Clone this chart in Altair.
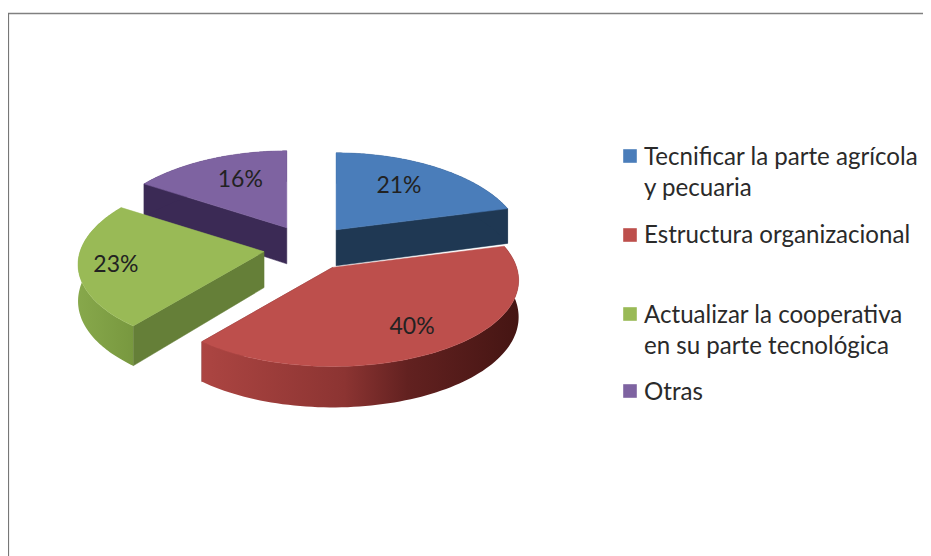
import numpy as np
import altair as alt

# ---- chart values ----
categories = ["Tecnificar la parte agrícola y pecuaria", "Estructura organizacional",
              "Actualizar la cooperativa en su parte tecnológica", "Otras"]
values = [21, 40, 23, 16]
legend_lines = [["Tecnificar la parte agrícola", "y pecuaria"], ["Estructura organizacional"],
                ["Actualizar la cooperativa", "en su parte tecnológica"], ["Otras"]]

# ---- layout and style ----
W, H = 915, 548
FONT = "Lato"
top_colors = ["#4a7dba", "#bd4f4c", "#99ba56", "#7e63a1"]
cut_colors = ["#1f3853", "#7a2f2d", "#657f38", "#3b2a55"]
def grad(*stops):
    return alt.LinearGradient(gradient="linear", x1=0, y1=0, x2=1, y2=0,
                              stops=[alt.GradientStop(offset=o, color=c) for o, c in stops])
rim_fills = [cut_colors[0],
             grad((0, "#ac4542"), (0.45, "#8c3432"), (0.65, "#622120"), (1, "#451513")),
             grad((0, "#87a84b"), (1, "#78983f")),
             cut_colors[3]]
CX, CY, EX, EY = 308.5, 248, 45, 23      # pie centre and explosion
R, S, KX, KY = 184, 88, 0.15, 0.125      # ellipse radii and perspective
label_reach = [0.58, 0.72, 0.80, 0.62]
label_nudge = [(2, -6), (2, 2), (0, 2), (4, -3)]
legend_rows = [[165, 196], [243], [323, 354], [400]]
swatch_rows = [156, 235, 314, 391]
cut_side = [1, 1, 0, 0]                  # which straight edge of each slice faces the viewer

shares = np.array(values) / sum(values) * 2 * np.pi
stops = np.concatenate([[0], np.cumsum(shares)])

def project(theta, mid, reach=1.0):
    u, v = np.sin(theta) * reach, -np.cos(theta) * reach
    px = CX + EX * np.sin(mid) + R * u * (1 + KX * v)
    py = CY - EY * np.cos(mid) + S * (v + KY * v * v)
    return px, py

def depth(theta, reach=1.0):
    return 36 + 5 * (-np.cos(theta) * reach)

def shape(points, **mark):
    ring = [[float(x), float(y)] for x, y in points]
    ring.append(ring[0])
    feat = {"type": "Feature", "properties": {}, "geometry": {"type": "Polygon", "coordinates": [ring]}}
    return (alt.Chart(alt.InlineData(values=[feat])).mark_geoshape(**mark)
            .project(type="identity", scale=1, translate=[-8, -8]))

layers = []
for i in [3, 0, 2, 1]:
    a0, a1 = stops[i], stops[i + 1]
    mid = (a0 + a1) / 2
    th = np.linspace(a0, a1, 90)
    xs, ys = project(th, mid)
    ax, ay = project(mid, mid, 0.0)
    ad = 36
    # straight cut wall (the one facing the viewer)
    cut_theta = a1 if cut_side[i] else a0
    cx_, cy_ = project(cut_theta, mid)
    cd = depth(cut_theta)
    layers.append(shape([(ax, ay), (cx_, cy_), (cx_, cy_ + cd), (ax, ay + ad)],
                        fill=cut_colors[i], stroke=cut_colors[i], strokeWidth=0.5))
    # outer wall
    rim = list(zip(xs, ys)) + list(zip(xs[::-1], (ys + depth(th))[::-1]))
    layers.append(shape(rim, fill=rim_fills[i]))
    # top face
    layers.append(shape([(ax, ay)] + list(zip(xs, ys)), fill=top_colors[i],
                        stroke=top_colors[i], strokeWidth=0.5))

x_s = alt.Scale(domain=[8, 8 + W], range=[0, W], nice=False, zero=False)
y_s = alt.Scale(domain=[8, 8 + H], range=[0, H], nice=False, zero=False)
X = lambda f: alt.X(f, type="quantitative", scale=x_s, axis=None)
Y = lambda f: alt.Y(f, type="quantitative", scale=y_s, axis=None)

# frame
layers.append(alt.Chart(alt.InlineData(values=[{"x": 8, "x2": 923, "y": 13.5}]))
              .mark_rule(color="#808080", strokeWidth=1.6)
              .encode(x=X("x"), x2="x2:Q", y=Y("y")))
layers.append(alt.Chart(alt.InlineData(values=[{"x": 8.5, "y": 13, "y2": 556}]))
              .mark_rule(color="#777777", strokeWidth=1.2)
              .encode(x=X("x"), y=Y("y"), y2="y2:Q"))

# percent labels
pct = []
for i, v in enumerate(values):
    mid = (stops[i] + stops[i + 1]) / 2
    px, py = project(mid, mid, label_reach[i])
    pct.append({"x": float(px) + label_nudge[i][0], "y": float(py) + label_nudge[i][1], "t": f"{v}%"})
layers.append(alt.Chart(alt.InlineData(values=pct))
              .mark_text(font=FONT, fontSize=23, color="#222222", align="center", baseline="middle")
              .encode(x=X("x"), y=Y("y"), text="t:N"))

# legend
sw = [{"x": 630, "y": y, "c": c} for y, c in zip(swatch_rows, top_colors)]
layers.append(alt.Chart(alt.InlineData(values=sw))
              .mark_square(size=185, opacity=1)
              .encode(x=X("x"), y=Y("y"), color=alt.Color("c:N", scale=None)))
txt = [{"x": 644, "y": y, "t": t} for lines, rows in zip(legend_lines, legend_rows)
       for t, y in zip(lines, rows)]
layers.append(alt.Chart(alt.InlineData(values=txt))
              .mark_text(font=FONT, fontSize=24.1, color="#2a2a2a", align="left", baseline="alphabetic")
              .encode(x=X("x"), y=Y("y"), text="t:N"))

chart = alt.layer(*layers).properties(
    width=W, height=H, padding=0, autosize=alt.AutoSizeParams(type="none"),
    background="#ffffff"
).configure_view(stroke=None)
chart.save("out.html", embed_options={"renderer": "svg", "actions": False})
